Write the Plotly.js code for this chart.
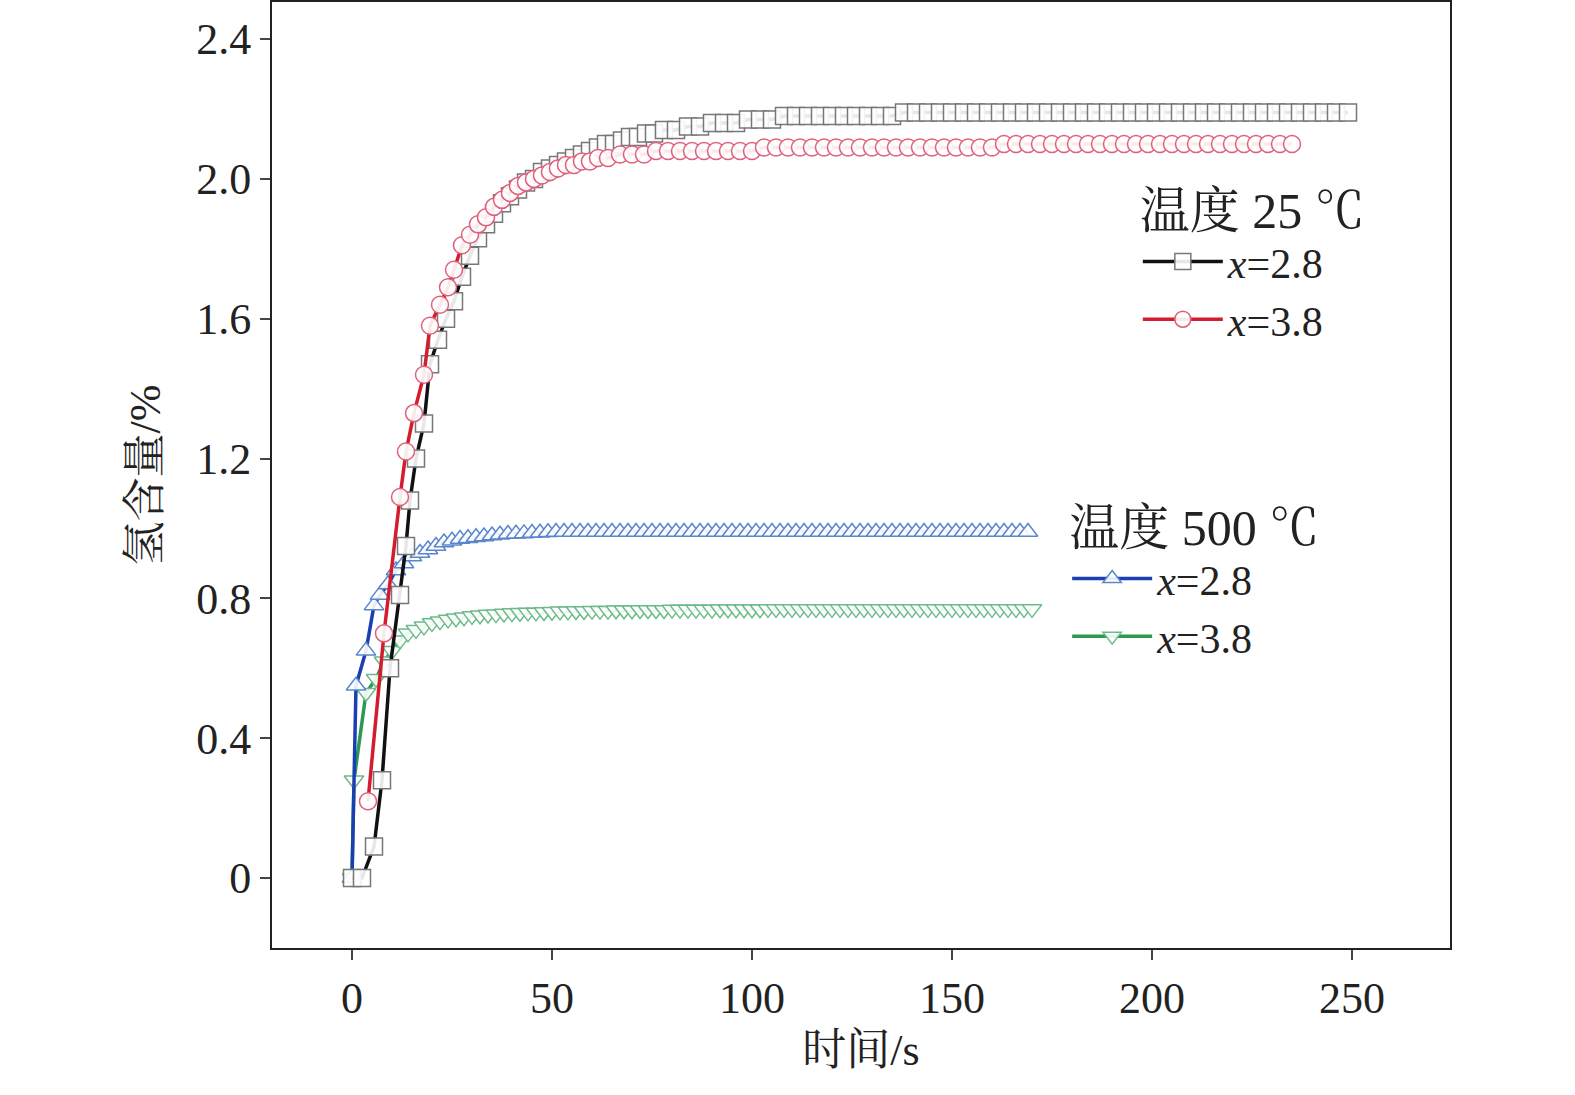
<!DOCTYPE html>
<html><head><meta charset="utf-8">
<script src="https://cdn.plot.ly/plotly-3.0.1.min.js"></script>
<style>body{margin:0;background:#fff}</style></head>
<body><div id="c" style="width:1575px;height:1095px"></div>
<script>
const xSq=[0,2.5,5.5,7.5,9.5,12,13.5,14.5,16,18,19.5,21.5,23.5,25.5,27.5,29.5,31.5,33.5,35.5,37.5,39.5,41.5,43.5,45.5,47.5,49.5,51.5,53.5,55.5,57.5,59.5,61.5,63.5,65.5,67.5,69.5,71.5,73.5,75.5,78,81,84,87,90,93,96,99,102,105,108,111,114,117,120,123,126,129,132,135,138,141,144,147,150,153,156,159,162,165,168,171,174,177,180,183,186,189,192,195,198,201,204,207,210,213,216,219,222,225,228,231,234,237,240,243,246,249];
const ySq=[0,0,0.09,0.28,0.6,0.81,0.95,1.08,1.2,1.3,1.47,1.54,1.6,1.65,1.72,1.78,1.83,1.87,1.9,1.93,1.95,1.97,1.99,2.0,2.02,2.03,2.04,2.05,2.06,2.07,2.08,2.09,2.1,2.1,2.11,2.12,2.12,2.13,2.13,2.14,2.14,2.15,2.15,2.16,2.16,2.16,2.17,2.17,2.17,2.18,2.18,2.18,2.18,2.18,2.18,2.18,2.18,2.18,2.18,2.19,2.19,2.19,2.19,2.19,2.19,2.19,2.19,2.19,2.19,2.19,2.19,2.19,2.19,2.19,2.19,2.19,2.19,2.19,2.19,2.19,2.19,2.19,2.19,2.19,2.19,2.19,2.19,2.19,2.19,2.19,2.19,2.19,2.19,2.19,2.19,2.19,2.19];
const xCi=[4,8,12,13.5,15.5,18,19.5,22,24,25.5,27.5,29.5,31.5,33.5,35.5,37.5,39.5,41.5,43.5,45.5,47.5,49.5,51.5,53.5,55.5,57.5,59.5,61.5,64,67,70,73,76,79,82,85,88,91,94,97,100,103,106,109,112,115,118,121,124,127,130,133,136,139,142,145,148,151,154,157,160,163,166,169,172,175,178,181,184,187,190,193,196,199,202,205,208,211,214,217,220,223,226,229,232,235];
const yCi=[0.22,0.7,1.09,1.22,1.33,1.44,1.58,1.64,1.69,1.74,1.81,1.84,1.87,1.89,1.92,1.94,1.96,1.98,1.99,2.0,2.01,2.02,2.03,2.04,2.04,2.05,2.05,2.06,2.06,2.07,2.07,2.07,2.08,2.08,2.08,2.08,2.08,2.08,2.08,2.08,2.08,2.09,2.09,2.09,2.09,2.09,2.09,2.09,2.09,2.09,2.09,2.09,2.09,2.09,2.09,2.09,2.09,2.09,2.09,2.09,2.09,2.1,2.1,2.1,2.1,2.1,2.1,2.1,2.1,2.1,2.1,2.1,2.1,2.1,2.1,2.1,2.1,2.1,2.1,2.1,2.1,2.1,2.1,2.1,2.1,2.1];
const xTu=[0,1,3.5,5.5,7,9,11,13,15,17,19,21,23,25,27,29,31,33,35,37,39,41,43,45,47,49,51,53,55,57,59,61,63,65,67,69,71,73,75,77,79,81,83,85,87,89,91,93,95,97,99,101,103,105,107,109,111,113,115,117,119,121,123,125,127,129,131,133,135,137,139,141,143,145,147,149,151,153,155,157,159,161,163,165,167,169];
const yTu=[0,0.55,0.65,0.78,0.81,0.84,0.88,0.9,0.92,0.93,0.94,0.95,0.96,0.965,0.97,0.972,0.975,0.977,0.98,0.982,0.984,0.985,0.986,0.987,0.988,0.989,0.99,0.99,0.99,0.99,0.99,0.99,0.99,0.99,0.99,0.99,0.99,0.99,0.99,0.99,0.99,0.99,0.99,0.99,0.99,0.99,0.99,0.99,0.99,0.99,0.99,0.99,0.99,0.99,0.99,0.99,0.99,0.99,0.99,0.99,0.99,0.99,0.99,0.99,0.99,0.99,0.99,0.99,0.99,0.99,0.99,0.99,0.99,0.99,0.99,0.99,0.99,0.99,0.99,0.99,0.99,0.99,0.99,0.99,0.99,0.99];
const xTd=[0,0.5,3.5,6,8,10,12,14,16,18,20,22,24,26,28,30,32,34,36,38,40,42,44,46,48,50,52,54,56,58,60,62,64,66,68,70,72,74,76,78,80,82,84,86,88,90,92,94,96,98,100,102,104,106,108,110,112,114,116,118,120,122,124,126,128,130,132,134,136,138,140,142,144,146,148,150,152,154,156,158,160,162,164,166,168,170];
const yTd=[0,0.28,0.53,0.57,0.62,0.65,0.68,0.7,0.71,0.72,0.73,0.735,0.74,0.743,0.746,0.75,0.752,0.754,0.755,0.757,0.758,0.759,0.76,0.76,0.761,0.762,0.763,0.763,0.764,0.764,0.765,0.765,0.765,0.766,0.766,0.766,0.767,0.767,0.767,0.767,0.768,0.768,0.768,0.768,0.768,0.768,0.769,0.769,0.769,0.769,0.769,0.769,0.77,0.77,0.77,0.77,0.77,0.77,0.77,0.77,0.77,0.77,0.77,0.77,0.77,0.77,0.77,0.77,0.77,0.77,0.77,0.77,0.77,0.77,0.77,0.77,0.77,0.77,0.77,0.77,0.77,0.77,0.77,0.77,0.77,0.77];
const yTicks=[0,0.4,0.8,1.2,1.6,2.0,2.4];
const yTickText=['0','0.4','0.8','1.2','1.6','2.0','2.4'];
const names=['<i>x</i>=2.8','<i>x</i>=3.8'];
const serif='Liberation Serif, Times New Roman, Noto Serif CJK SC, Noto Sans CJK SC';
function tr(x,y,name,lc,mc,sym,leg){return {x:x,y:y,name:name,legend:leg,mode:'lines+markers',type:'scatter',
 line:{color:lc,width:3.5},marker:{symbol:sym,size:17,color:'rgba(255,255,255,0.9)',line:{color:mc,width:1.5}}};}
const data=[
 tr(xTd,yTd,names[1],'#2a9a52','#6cba8a','triangle-down','legend2'),
 tr(xTu,yTu,names[0],'#1b3fb0','#5a86cc','triangle-up','legend2'),
 tr(xSq,ySq,names[0],'#111','#777','square','legend'),
 tr(xCi,yCi,names[1],'#d41c2c','#e0607a','circle','legend')
];
const layout={width:1575,height:1095,margin:{l:272,r:125,t:2,b:147},paper_bgcolor:'#fff',plot_bgcolor:'#fff',
 font:{family:serif,size:44,color:'#222'},
 xaxis:{range:[-20,274.5],tickvals:[0,50,100,150,200,250],ticks:'outside',ticklen:10,tickwidth:2,showline:true,mirror:true,linewidth:2,linecolor:'#222',showgrid:false,zeroline:false,
  title:{text:'时间/s',standoff:12,font:{size:44}}},
 yaxis:{range:[-0.2,2.506],tickvals:yTicks,ticktext:yTickText,ticks:'outside',ticklen:10,tickwidth:2,showline:true,mirror:true,linewidth:2,linecolor:'#222',showgrid:false,zeroline:false,
  title:{text:'氢含量/%',standoff:22,font:{size:44}}},
 legend:{x:0.735,y:0.83,xanchor:'left',yanchor:'top',bgcolor:'rgba(0,0,0,0)',traceorder:'normal',title:{text:'温度 25 ℃',side:'top'},font:{size:42},itemwidth:80,tracegroupgap:0},
 legend2:{x:0.675,y:0.495,xanchor:'left',yanchor:'top',bgcolor:'rgba(0,0,0,0)',traceorder:'reversed',title:{text:'温度 500 ℃',side:'top'},font:{size:42},itemwidth:80}
};
Plotly.newPlot('c',data,layout,{displayModeBar:false});
</script></body></html>
